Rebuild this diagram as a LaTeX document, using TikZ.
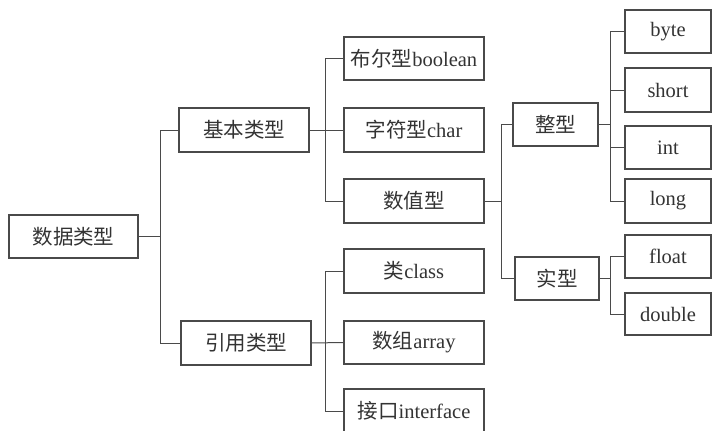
\documentclass[tikz,border=0pt]{standalone}
\usepackage{fontspec}
\usetikzlibrary{calc}
\setmainfont{Liberation Serif}
\newfontfamily\cjk{Noto Sans CJK SC}
\definecolor{ln}{HTML}{4A4A4A}
\definecolor{tx}{HTML}{333333}
\begin{document}
\begin{tikzpicture}[x=1pt,y=-1pt,
  box/.style={draw=ln,line width=1.1pt,rectangle,inner sep=0pt,text=tx,
    font=\fontsize{20.5}{24}\selectfont},
  conn/.style={draw=ln,line width=1pt}]
\useasboundingbox (0,0) rectangle (713,431);
% nodes
\node[box,minimum width=129pt,minimum height=43pt] (root) at (73.5,236.5) {\cjk 数据类型};
\node[box,minimum width=130pt,minimum height=44pt] (jb) at (244,130) {\cjk 基本类型};
\node[box,minimum width=130pt,minimum height=44pt] (yy) at (246,343) {\cjk 引用类型};
\node[box,minimum width=140pt,minimum height=43pt] (bool) at (414,58.5) {{\cjk 布尔型}boolean};
\node[box,minimum width=140pt,minimum height=44pt] (chr) at (414,130) {{\cjk 字符型}char};
\node[box,minimum width=140pt,minimum height=44pt] (num) at (414,201) {\cjk 数值型};
\node[box,minimum width=140pt,minimum height=44pt] (cls) at (414,271) {{\cjk 类}class};
\node[box,minimum width=140pt,minimum height=43pt] (arr) at (414,342.5) {{\cjk 数组}array};
\node[box,minimum width=140pt,minimum height=44pt] (itf) at (414,411) {{\cjk 接口}interface};
\node[box,minimum width=85pt,minimum height=43pt] (zx) at (555.5,124.5) {\cjk 整型};
\node[box,minimum width=84pt,minimum height=43pt] (sx) at (557,278.5) {\cjk 实型};
\node[box,minimum width=86pt,minimum height=43pt] (byte) at (668,31.5) {byte};
\node[box,minimum width=86pt,minimum height=44pt] (short) at (668,90) {short};
\node[box,minimum width=86pt,minimum height=43pt] (int) at (668,147.5) {int};
\node[box,minimum width=86pt,minimum height=44pt] (long) at (668,201) {long};
\node[box,minimum width=86pt,minimum height=43pt] (float) at (668,256.5) {float};
\node[box,minimum width=86pt,minimum height=42pt] (double) at (668,314) {double};
% connectors
\draw[conn] (root.east) -- ++(22,0) coordinate (b1);
\draw[conn] (jb.west) -| (b1) |- (yy.west);
\draw[conn] (jb.east) -- (chr.west);
\coordinate (b2) at ($(jb.east)+(16,0)$);
\draw[conn] (bool.west) -| (b2) |- (num.west);
\draw[conn] (yy.east) -- (arr.west);
\coordinate (b3) at ($(yy.east)+(14,0)$);
\draw[conn] (cls.west) -| (b3) |- (itf.west);
\draw[conn] (num.east) -- ++(17,0) coordinate (b4);
\draw[conn] (zx.west) -| (b4) |- (sx.west);
\draw[conn] (zx.east) -- ++(12,0) coordinate (b5);
\draw[conn] (byte.west) -| (b5) |- (long.west);
\draw[conn] (short.west) -- (short.west -| b5);
\draw[conn] (int.west) -- (int.west -| b5);
\draw[conn] (sx.east) -- ++(11,0) coordinate (b6);
\draw[conn] (float.west) -| (b6) |- (double.west);
\end{tikzpicture}
\end{document}
